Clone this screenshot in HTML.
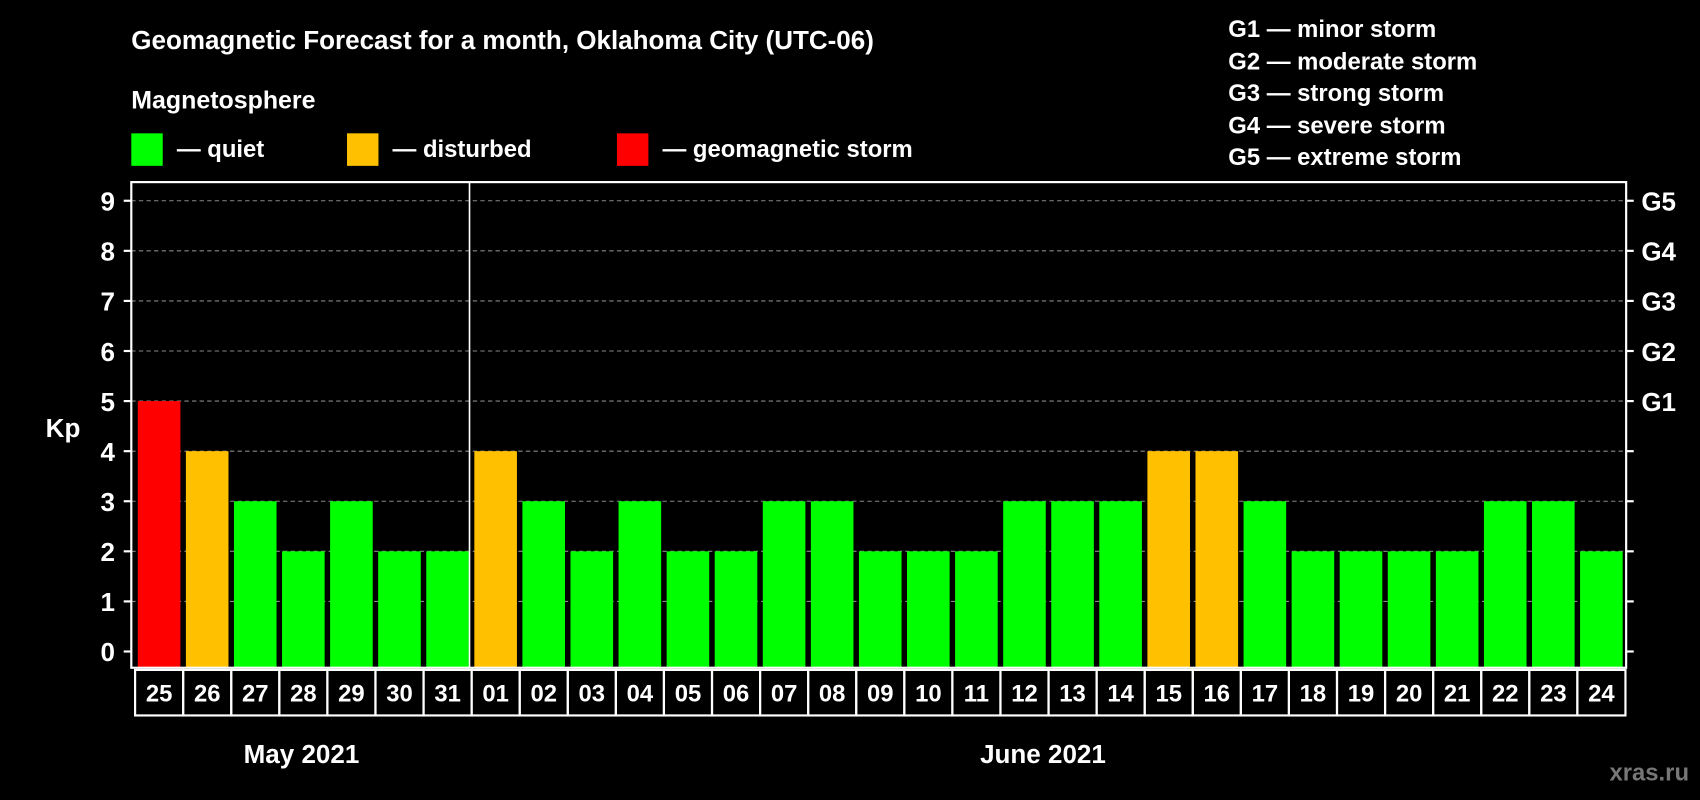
<!DOCTYPE html>
<html><head><meta charset="utf-8"><style>
html,body{margin:0;padding:0;background:#000;}
svg{display:block;font-family:"Liberation Sans",Arial,sans-serif;font-weight:bold;}
</style></head><body>
<svg id="chart" width="1700" height="800" viewBox="0 0 1568 738" xmlns="http://www.w3.org/2000/svg">
<rect width="1568" height="738" fill="#000"/>
<text x="121" y="45" fill="#fff" font-size="24">Geomagnetic Forecast for a month, Oklahoma City (UTC-06)</text>
<text x="121" y="100" fill="#fff" font-size="23">Magnetosphere</text>
<g><rect x="121" y="123" width="29" height="30" fill="#00ff00"/><text x="163" y="145" fill="#fff" font-size="22">— quiet</text></g>
<g><rect x="320" y="123" width="29" height="30" fill="#ffc000"/><text x="362" y="145" fill="#fff" font-size="22">— disturbed</text></g>
<g><rect x="569" y="123" width="29" height="30" fill="#ff0000"/><text x="611" y="145" fill="#fff" font-size="22">— geomagnetic storm</text></g>
<g fill="#fff" font-size="22">
<text x="1133" y="34">G1 — minor storm</text>
<text x="1133" y="64">G2 — moderate storm</text>
<text x="1133" y="93">G3 — strong storm</text>
<text x="1133" y="123">G4 — severe storm</text>
<text x="1133" y="152">G5 — extreme storm</text>
</g>
<text x="58" y="403" fill="#fff" font-size="24" text-anchor="middle">Kp</text>
<g id="grid"></g>
<g id="bars"></g>
<rect x="121" y="168" width="1379" height="448" fill="none" stroke="#fff" stroke-width="2"/>
<line x1="433" y1="168" x2="433" y2="616" stroke="#fff" stroke-width="1.5"/>
<g id="labels"></g>
<text x="278" y="704" fill="#fff" font-size="24" text-anchor="middle">May 2021</text>
<text x="962" y="704" fill="#fff" font-size="24" text-anchor="middle">June 2021</text>
<text x="1558" y="720" fill="#777" font-size="22" text-anchor="end">xras.ru</text>
</svg>
<script>
const days = ["25","26","27","28","29","30","31","01","02","03","04","05","06","07","08","09","10","11","12","13","14","15","16","17","18","19","20","21","22","23","24"];
const kp = [5,4,3,2,3,2,2,4,3,2,3,2,2,3,3,2,2,2,3,3,3,4,4,3,2,2,2,2,3,3,2];
const yTicks = [0,1,2,3,4,5,6,7,8,9];
const gLabels = ["","","","","","G1","G2","G3","G4","G5"];
const NS="http://www.w3.org/2000/svg";
const y0=601, unit=46.2, x0=124.5, pitch=44.35;
const yS=v=>y0-v*unit;
const xS=i=>x0+i*pitch;
function mk(t,a,p){const e=document.createElementNS(NS,t);for(const k in a)e.setAttribute(k,a[k]);p.appendChild(e);return e;}
const grid=document.getElementById('grid'),bars=document.getElementById('bars'),labels=document.getElementById('labels');
yTicks.forEach((v,i)=>{
  const y=yS(v);
  if(v>0){const g=mk('line',{x1:121,x2:1500,y1:y,y2:y,stroke:'#888','stroke-dasharray':'4,3','stroke-width':1},grid);
  
  }
  mk('line',{x1:114,x2:121,y1:y,y2:y,stroke:'#fff','stroke-width':2},grid);
  mk('line',{x1:1500,x2:1507,y1:y,y2:y,stroke:'#fff','stroke-width':2},grid);
  const t=mk('text',{x:106,y:y+9,fill:'#fff','font-size':24,'text-anchor':'end'},grid);t.textContent=v;
  
  
  if(gLabels[i]){const g2=mk('text',{x:1514,y:y+9,fill:'#fff','font-size':24},grid);g2.textContent=gLabels[i];
  
  }
});
days.forEach((d,i)=>{
  const v=kp[i];
  const c=v>=5?'#ff0000':(v>=4?'#ffc000':'#00ff00');
  const b=mk('rect',{x:xS(i)+2.5,y:yS(v),width:39.3,height:616-yS(v),fill:c},bars);
  
  
  const bx=mk('rect',{x:xS(i),y:618,width:pitch,height:42,fill:'none',stroke:'#fff','stroke-width':2},labels);
  
  
  const t=mk('text',{x:xS(i)+pitch/2,y:647,fill:'#fff','font-size':22,'text-anchor':'middle'},labels);t.textContent=d;
  
  
});
</script>
</body></html>
